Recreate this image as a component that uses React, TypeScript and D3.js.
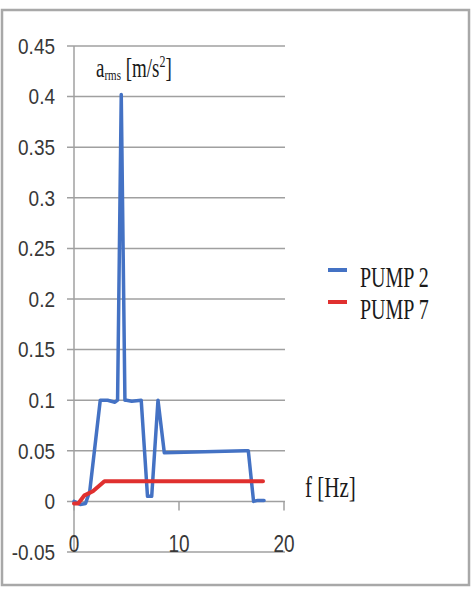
import React from "react";
import * as d3 from "d3";

const yTicks = [-0.05, 0, 0.05, 0.1, 0.15, 0.2, 0.25, 0.3, 0.35, 0.4, 0.45];
const yTickLabels = ["-0.05", "0", "0.05", "0.1", "0.15", "0.2", "0.25", "0.3", "0.35", "0.4", "0.45"];
const xTicks = [0, 10, 20];
const xTickLabels = ["0", "10", "20"];

const pump2X = [0, 0.6, 1.1, 1.5, 2.5, 3.2, 3.9, 4.15, 4.5, 4.85, 5.0, 5.5, 6.4, 7.0, 7.4, 8.0, 8.6, 16.3, 16.6, 17.1, 17.5, 18.1];
const pump2Y = [0, -0.003, -0.002, 0.01, 0.1, 0.1, 0.098, 0.1, 0.402, 0.1, 0.1, 0.099, 0.1, 0.005, 0.005, 0.1, 0.048, 0.05, 0.05, 0, 0.001, 0.001];

const pump7X = [0, 0.4, 1.0, 1.8, 2.9, 18.0];
const pump7Y = [-0.002, -0.002, 0.006, 0.01, 0.02, 0.02];

const seriesNames = ["PUMP 2", "PUMP 7"];
const seriesColors = ["#4472c4", "#e0302f"];

export default function App() {
  const x = d3.scaleLinear().domain([0, 20]).range([74, 284]);
  const y = d3.scaleLinear().domain([-0.05, 0.45]).range([552, 46]);
  const line = d3
    .line<[number, number]>()
    .x((d) => x(d[0]))
    .y((d) => y(d[1]));
  const p2 = pump2X.map((v, i) => [v, pump2Y[i]] as [number, number]);
  const p7 = pump7X.map((v, i) => [v, pump7Y[i]] as [number, number]);
  const grid = "#a0a0a0";
  const sansFont = "'Liberation Sans', Arial, sans-serif";
  const serifFont = "'Liberation Serif', 'Times New Roman', serif";

  return (
    <svg
      width={475}
      height={592}
      style={{ position: "absolute", left: 0, top: 0, background: "#fff" }}
    >
      <rect x={0} y={0} width={475} height={592} fill="#fff" />
      <rect x={2} y={10} width={467} height={575} fill="#fff" stroke="#a8a8a8" strokeWidth={2.5} />
      {yTicks.map((t, i) => (
        <g key={"y" + i}>
          <line x1={67} x2={285} y1={y(t)} y2={y(t)} stroke={grid} strokeWidth={1.5} />
          <text
            transform={`translate(55,${y(t) + 7.8}) scale(1,1.2)`}
            textAnchor="end"
            fontFamily={sansFont}
            fontSize={19}
            fill="#383838"
          >
            {yTickLabels[i]}
          </text>
        </g>
      ))}
      <line x1={x(0)} x2={x(0)} y1={y(0.45)} y2={y(-0.05)} stroke={grid} strokeWidth={1.5} />
      {xTicks.map((t, i) => (
        <g key={"x" + i}>
          <line x1={x(t)} x2={x(t)} y1={y(0)} y2={y(0) + 9} stroke={grid} strokeWidth={1.5} />
          <text
            transform={`translate(${x(t)},552) scale(1,1.25)`}
            textAnchor="middle"
            fontFamily={sansFont}
            fontSize={19}
            fill="#383838"
          >
            {xTickLabels[i]}
          </text>
        </g>
      ))}
      <path d={line(p2) || ""} fill="none" stroke={seriesColors[0]} strokeWidth={3.5} strokeLinejoin="round" strokeLinecap="round" />
      <path d={line(p7) || ""} fill="none" stroke={seriesColors[1]} strokeWidth={4} strokeLinejoin="round" strokeLinecap="round" />

      {seriesNames.map((n, i) => (
        <g key={n}>
          <line x1={328} x2={347} y1={270 + i * 32} y2={270 + i * 32} stroke={seriesColors[i]} strokeWidth={4} />
          <text
            transform={`translate(360,${287 + i * 32}) scale(1,1.43)`}
            fontFamily={serifFont}
            fontSize={20}
            fill="#1a1a1a"
          >
            {n}
          </text>
        </g>
      ))}

      <text transform="translate(305,497) scale(1,1.4)" fontFamily={serifFont} fontSize={21} fill="#1a1a1a">
        f [Hz]
      </text>

      <text transform="translate(96,77) scale(1,1.4)" fontFamily={serifFont} fontSize={19} fill="#1a1a1a">
        a<tspan fontSize={11} dy={2}>rms</tspan>
        <tspan dy={-2}> [m/s</tspan>
        <tspan fontSize={12} dy={-7}>2</tspan>
        <tspan dy={7}>]</tspan>
      </text>
    </svg>
  );
}
